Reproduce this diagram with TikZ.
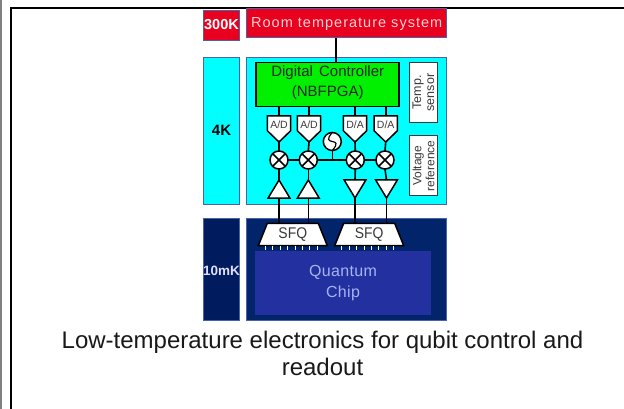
\documentclass[tikz,border=0pt]{standalone}
\usepackage{fontspec}
\setmainfont{Liberation Sans}
\definecolor{hotred}{HTML}{E8001E}
\definecolor{coldcyan}{HTML}{00FFFF}
\definecolor{edgeblue}{HTML}{4A62A8}
\definecolor{navy}{HTML}{02246A}
\definecolor{navyb}{HTML}{011C5E}
\definecolor{chipblue}{HTML}{2230A0}
\definecolor{chiptext}{HTML}{A8B4F0}
\definecolor{ctrlgreen}{HTML}{00F000}
\definecolor{inktext}{HTML}{3A3A3A}
\newcommand{\fs}[1]{\fontsize{#1}{#1}\selectfont}
\tikzset{
  x=1pt,y=-1pt,
  every node/.style={inner sep=0pt,outer sep=0pt,align=center},
  panel/.style={draw=edgeblue,line width=0.9pt},
  wire/.style={draw=black,line width=1.6pt},
  part/.style={draw=black,line width=1.5pt,fill=white},
  mixer/.style={circle,part,minimum size=18pt}
}
\begin{document}
\begin{tikzpicture}
\useasboundingbox (0,0) rectangle (624,409);
\fill[white] (0,0) rectangle (624,409);
% page frame
\coordinate (fa) at (1,0); \coordinate (fb) at (1,409);
\draw[gray,line width=1.5pt] (fa) -- (fb);
\coordinate (fc) at (11,409); \coordinate (fd) at (11,8); \coordinate (fe) at (624,8);
\draw[black,line width=2pt] (fc) -- (fd) -- (fe);
% panels
\node[panel,fill=hotred,minimum width=35.5pt,minimum height=30pt] (t300) at (221.5,25) {};
\node[text=white] at (t300.center) {\fs{14.5}\bfseries 300K};
\node[panel,fill=hotred,minimum width=200pt,minimum height=28.7pt] (room) at (346.7,23.3) {};
\node[text=red!18!white] at ([yshift=-0.5pt]room.center) {\fs{14.5}\addfontfeature{LetterSpace=7}Room temperature system};
\node[panel,fill=coldcyan,minimum width=35.5pt,minimum height=147pt] (t4k) at (221.5,130.8) {\fs{15}\bfseries 4K};
\node[panel,fill=coldcyan,minimum width=200pt,minimum height=147pt] (main4k) at (346.7,130.8) {};
\node[panel,fill=navyb,minimum width=35.5pt,minimum height=101.6pt] (t10) at (221.5,269.5) {};
\node[text=white!88!blue] at ([yshift=-1pt]t10.center) {\fs{13.5}\bfseries 10mK};
\node[panel,fill=navy,minimum width=200pt,minimum height=101.6pt] (main10) at (346.7,269.5) {};
\node[fill=chipblue,minimum width=176pt,minimum height=64.3pt] (chip) at (343,282.8) {};
\node[text=chiptext] at ([yshift=-0.5pt]chip.center) {\fs{16}\addfontfeature{LetterSpace=2}Quantum\\[5pt]\fs{16}\addfontfeature{LetterSpace=2}Chip};
% controller and side boxes
\node[draw=black,line width=1.5pt,fill=ctrlgreen,minimum width=143pt,minimum height=44pt] (ctrl) at (327.7,84.7) {};
\node[text=black!85] at ([yshift=2pt]ctrl.center) {\fs{15}Digital\hspace{2pt} Controller\\[5pt]\fs{15}(NBFPGA)};
\node[draw=inktext,line width=0.8pt,fill=white,minimum width=28.5pt,minimum height=59.6pt] (temp) at (423.5,92.5) {};
\node[rotate=90,text=inktext] at (temp.center) {\fs{12.5}Temp.\\[1pt]\fs{12.5}sensor};
\node[draw=inktext,line width=0.8pt,fill=white,minimum width=28.5pt,minimum height=60pt] (vref) at (423.5,165.7) {};
\node[rotate=90,text=inktext] at (vref.center) {\fs{12}Voltage\\[1pt]\fs{12}reference};
% converters (pentagons), named by bounding boxes
\foreach \n/\cx in {ad1/279,ad2/309,da1/355,da2/385.7}{
  \node[minimum width=23.4pt,minimum height=26pt] (\n) at (\cx,129) {};
  \draw[part] (\n.north west) -- (\n.north east) -- ([yshift=-1.7pt]\n.east) -- (\n.south) -- ([yshift=-1.7pt]\n.west) -- cycle;
}
\node[text=inktext] at ([yshift=4pt]ad1.center) {\fs{10.5}A/D};
\node[text=inktext] at ([yshift=4pt]ad2.center) {\fs{10.5}A/D};
\node[text=inktext] at ([yshift=4pt]da1.center) {\fs{10.5}D/A};
\node[text=inktext] at ([yshift=4pt]da2.center) {\fs{10.5}D/A};
% mixers
\foreach \n/\cx in {mx1/279,mx2/308.3,mx3/355.3,mx4/385}{
  \node[mixer] (\n) at (\cx,160) {};
  \draw[black,line width=1.5pt] (\n.45) -- (\n.225) (\n.135) -- (\n.315);
}
% oscillator
\node[mixer] (osc) at (332.3,141.5) {};
\draw[black,line width=1.2pt] (osc.north) .. controls ([xshift=-13pt,yshift=-6pt]osc.center) and ([xshift=13pt,yshift=6pt]osc.center) .. (osc.south);
\coordinate (oscj) at (osc |- mx2);
% amplifiers
\foreach \n/\cx in {amp1/279,amp2/308.3}{
  \node[minimum width=21.7pt,minimum height=18pt] (\n) at (\cx,189) {};
  \draw[part] (\n.south west) -- (\n.south east) -- (\n.north) -- cycle;
}
\foreach \n/\cx in {amp3/355,amp4/386.5}{
  \node[minimum width=21.7pt,minimum height=18pt] (\n) at (\cx,189) {};
  \draw[part] (\n.north west) -- (\n.north east) -- (\n.south) -- cycle;
}
% SFQ blocks
\foreach \n/\cx in {sfq1/292.8,sfq2/369.2}{
  \node[minimum width=69pt,minimum height=22.4pt] (\n) at (\cx,234.5) {};
  \draw[part] ([xshift=9pt]\n.north west) -- ([xshift=-9pt]\n.north east) -- (\n.south east) -- (\n.south west) -- cycle;
  \foreach \k in {1,...,8}{
    \draw[white,line width=0.9pt] ([xshift={(\k*7.4-0.3)*1pt}]\n.south west) -- ++(0,4.5);
  }
}
\node[text=inktext] at ([yshift=-0.5pt]sfq1.center) {\fs{15.5}\addfontfeature{FakeStretch=0.9}SFQ};
\node[text=inktext] at ([yshift=-0.5pt]sfq2.center) {\fs{15.5}\addfontfeature{FakeStretch=0.9}SFQ};
% connectors
\draw[wire] ([xshift=-11pt]room.south) -- ([xshift=-11pt]room.south |- ctrl.north);
\foreach \a in {ad1,ad2,da1,da2}{\draw[wire] (\a.north |- ctrl.south) -- (\a.north);}
\draw[wire] (ad1.south) -- (mx1.north);
\draw[wire] (ad2.south) -- (mx2.north);
\draw[wire] (da1.south) -- (mx3.north);
\draw[wire] (da2.south) -- (mx4.north);
\draw[wire] (mx1) -- (mx2);
\draw[wire] (mx2) -- (mx3);
\draw[wire] (mx3) -- (mx4);
\draw[wire] (osc.south) -- (oscj);
\draw[wire] (mx1.south) -- (amp1.north);
\draw[wire] (mx2.south) -- (amp2.north);
\draw[wire] (mx3.south) -- (amp3.north);
\draw[wire] (mx4.south) -- (amp4.north);
\draw[wire] (amp1.south) -- (amp1.south |- sfq1.north);
\draw[wire] (amp2.south) -- (amp2.south |- sfq1.north);
\draw[wire] (amp3.south) -- (amp3.south |- sfq2.north);
\draw[wire] (amp4.south) -- (amp4.south |- sfq2.north);
% caption
\node[text=black!90] (cap) at (322.5,353.5) {\fs{24}Low-temperature electronics for qubit control and\\[3pt]\fs{24}readout};
\end{tikzpicture}
\end{document}
